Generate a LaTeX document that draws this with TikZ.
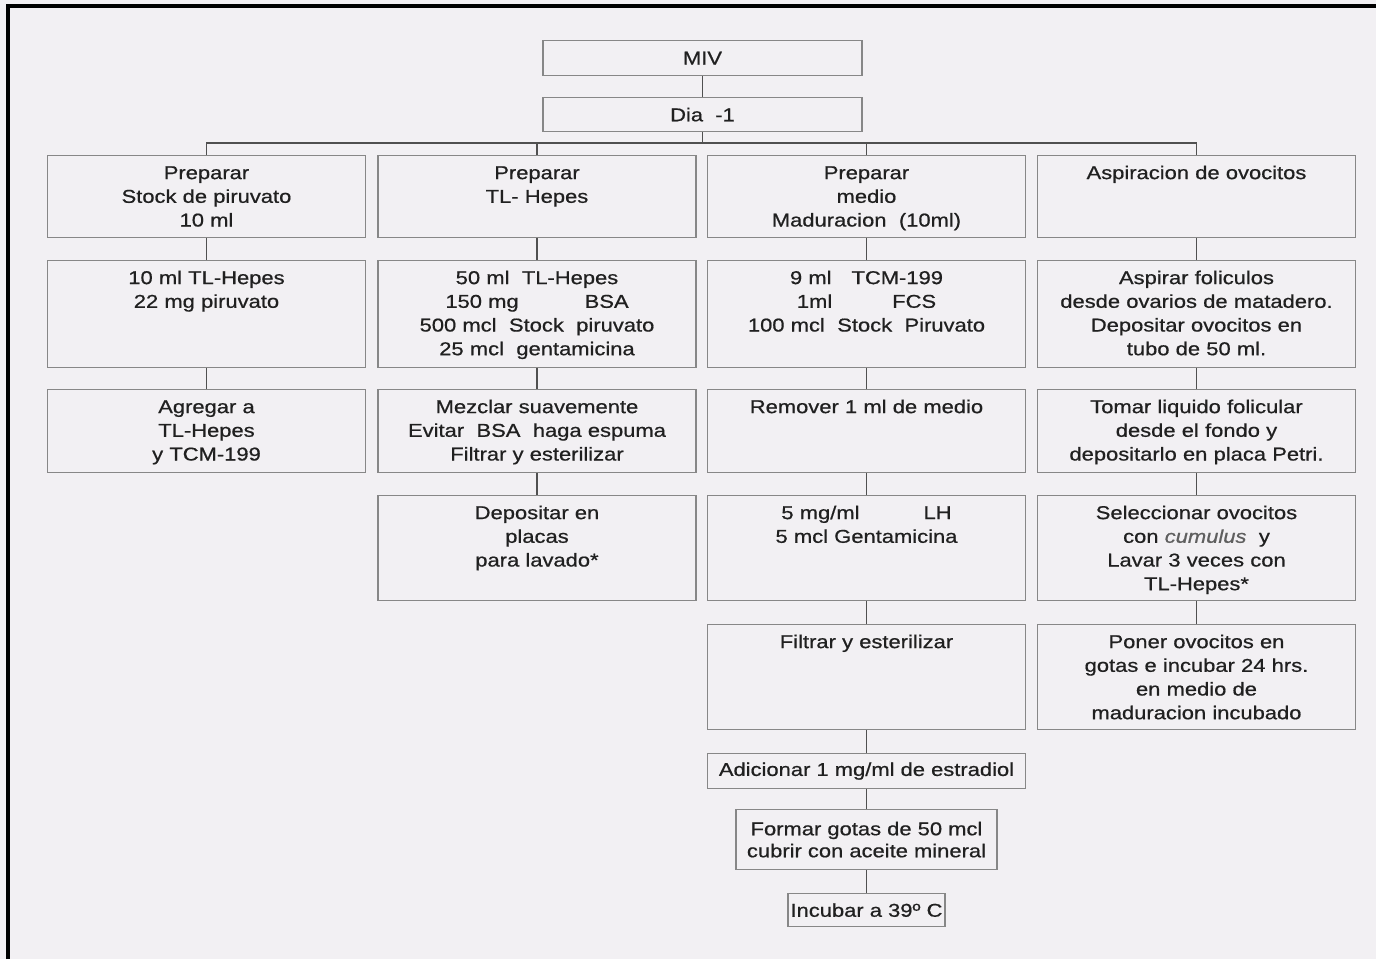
\documentclass[tikz,border=0pt]{standalone}
\usepackage{fontspec}
\setmainfont{Liberation Sans}[FakeStretch=1.18,FakeBold=0.7]
\begin{document}
\begin{tikzpicture}[x=0.5pt,y=-0.5pt,
  stepbox/.style={draw=miv_line,line width=0.6pt,anchor=north,text width=159pt,align=center,
    inner xsep=0pt,inner ysep=2.75pt,text height=9pt,text=miv_text,
    font=\fontsize{9.3}{11.85}\selectfont},
  tagbox/.style={draw=miv_line,line width=0.6pt,anchor=north,align=center,inner sep=0pt,
    text=miv_text,font=\fontsize{9.3}{11}\selectfont},
  link/.style={draw=miv_link,line width=0.8pt}]
\definecolor{miv_bg}{RGB}{242,240,243}
\definecolor{miv_line}{RGB}{135,135,135}
\definecolor{miv_link}{RGB}{80,80,80}
\definecolor{miv_text}{RGB}{32,32,32}
\definecolor{miv_soft}{RGB}{95,95,95}
\fill[miv_bg] (0,0) rectangle (1376,959);
\useasboundingbox (0,0) rectangle (1376,959);
\draw[line width=1.6pt] (8,959) -- (8,6) -- (1376,6);

\node[tagbox,minimum width=159.5pt,minimum height=17.5pt] (miv) at (702.5,40) {MIV};
\node[tagbox,minimum width=159.5pt,minimum height=17pt] (dia) at (702.5,97) {Dia\ \ -1};

\node[stepbox,text depth=26.5pt] (pir1) at (206.5,155) {Preparar\\Stock de piruvato\\10 ml};
\node[stepbox,text depth=26.5pt] (tlh1) at (537,155) {Preparar\\TL- Hepes};
\node[stepbox,text depth=26.5pt] (mad1) at (866.5,155) {Preparar\\medio\\Maduracion\ \ (10ml)};
\node[stepbox,text depth=26.5pt] (asp1) at (1196.5,155) {Aspiracion de ovocitos};

\node[stepbox,text depth=39pt] (pir2) at (206.5,260) {10 ml TL-Hepes\\22 mg piruvato};
\node[stepbox,text depth=39pt] (tlh2) at (537,260) {50 ml\ \ TL-Hepes\\150 mg\hspace{33pt}BSA\\500 mcl\ \ Stock\ \ piruvato\\25 mcl\ \ gentamicina};
\node[stepbox,text depth=39pt] (mad2) at (866.5,260) {9 ml\hspace{10pt}TCM-199\\1ml\hspace{30pt}FCS\\100 mcl\ \ Stock\ \ Piruvato};
\node[stepbox,text depth=39pt] (asp2) at (1196.5,260) {Aspirar foliculos\\desde ovarios de matadero.\\Depositar ovocitos en\\tubo de 50 ml.};

\node[stepbox,text depth=27pt] (pir3) at (206.5,389) {Agregar a\\TL-Hepes\\y TCM-199};
\node[stepbox,text depth=27pt] (tlh3) at (537,389) {Mezclar suavemente\\Evitar\ \ BSA\ \ haga espuma\\Filtrar y esterilizar};
\node[stepbox,text depth=27pt] (mad3) at (866.5,389) {Remover 1 ml de medio};
\node[stepbox,text depth=27pt] (asp3) at (1196.5,389) {Tomar liquido folicular\\desde el fondo y\\depositarlo en placa Petri.};

\node[stepbox,text depth=38pt] (tlh4) at (537,495) {Depositar en\\placas\\para lavado*};
\node[stepbox,text depth=38pt] (mad4) at (866.5,495) {5 mg/ml\hspace{32pt}LH\\5 mcl Gentamicina};
\node[stepbox,text depth=38pt] (asp4) at (1196.5,495) {Seleccionar ovocitos\\con \textcolor{miv_soft}{\itshape cumulus}\ \ y\\Lavar 3 veces con\\TL-Hepes*};

\node[stepbox,text depth=38pt] (mad5) at (866.5,624) {Filtrar y esterilizar};
\node[stepbox,text depth=38pt] (asp5) at (1196.5,624) {Poner ovocitos en\\gotas e incubar 24 hrs.\\en medio de\\maduracion incubado};

\node[tagbox,minimum width=159pt,minimum height=17.5pt] (adic) at (866.5,753) {Adicionar 1 mg/ml de estradiol};
\node[tagbox,minimum width=130.5pt,minimum height=30pt] (gotas) at (866.5,809) {Formar gotas de 50 mcl\\cubrir con aceite mineral};
\node[tagbox,minimum width=78.5pt,minimum height=16.5pt] (incub) at (866.5,893) {Incubar a 39º C};

\coordinate (bus) at (702.5,143);
\draw[link] (dia.south) -- (bus);
\draw[link] (pir1.north) |- (bus) -| (asp1.north);
\draw[link] (tlh1.north) -- (tlh1.north |- bus);
\draw[link] (mad1.north) -- (mad1.north |- bus);
\foreach \a/\b in {miv/dia,pir1/pir2,pir2/pir3,tlh1/tlh2,tlh2/tlh3,tlh3/tlh4,
  mad1/mad2,mad2/mad3,mad3/mad4,mad4/mad5,mad5/adic,adic/gotas,gotas/incub,
  asp1/asp2,asp2/asp3,asp3/asp4,asp4/asp5}
  \draw[link] (\a.south) -- (\b.north);
\end{tikzpicture}
\end{document}
